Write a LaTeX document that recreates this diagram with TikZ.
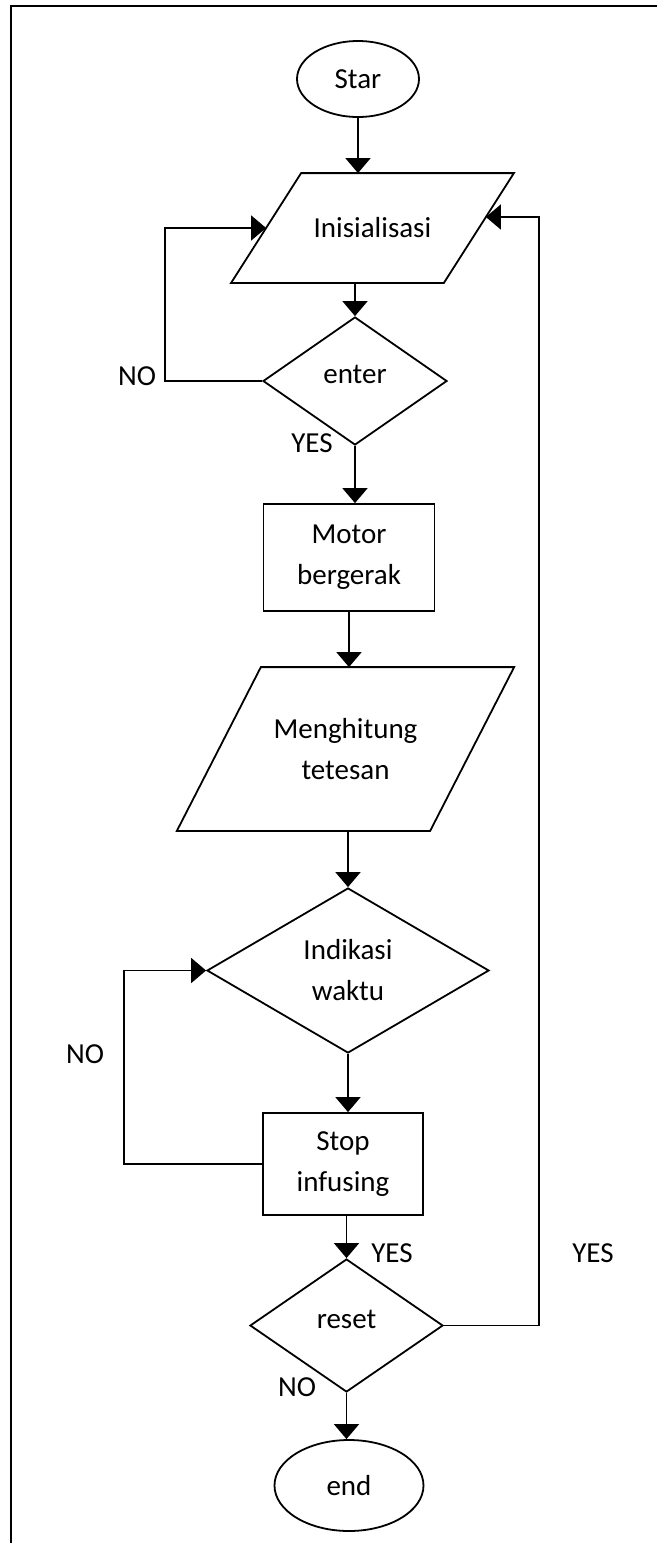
\documentclass[tikz,border=0pt]{standalone}
\usepackage{fontspec}
\setmainfont{Carlito}
\usetikzlibrary{shapes.geometric,arrows.meta,calc}
\begin{document}
\begin{tikzpicture}[x=1pt,y=-1pt,
  every node/.style={font=\fontsize{29}{41}\selectfont},
  shp/.style={draw, line width=1.8pt, inner sep=0pt, align=center},
  term/.style={shp, ellipse},
  procbox/.style={shp, rectangle},
  iobody/.style={shp, draw=none, rectangle},
  ioline/.style={line width=1.8pt, line join=miter},
  decide/.style={shp, diamond},
  raised/.style={text depth=13pt},
  arr/.style={line width=1.8pt, -{Triangle[length=15pt,width=25pt]}},
  lbl/.style={inner sep=0pt},
  frameline/.style={line width=2.2pt}]
\useasboundingbox (0,0) rectangle (657,1543);
\draw[frameline] (11,1543) -- (11,6) -- (657,6);

\node[term, minimum width=122, minimum height=76] (star) at (358,79) {Star};
\node[iobody, minimum width=211, minimum height=108] (inis) at (372.5,228) {Inisialisasi};
\draw[ioline] ($(inis.north west)+(35,0)$) -- ($(inis.north east)+(35,0)$)
  -- ($(inis.south east)+(-35,0)$) -- ($(inis.south west)+(-35,0)$) -- cycle;
\node[decide, raised, minimum width=184, minimum height=128, aspect=1.44] (enter) at (355,381) {enter};
\node[procbox, minimum width=171, minimum height=107] (motor) at (349,557.5) {Motor\\bergerak};
\node[iobody, minimum width=251.5, minimum height=162] (mengh) at (345.5,749) {Menghitung\\tetesan};
\draw[ioline] ($(mengh.north west)+(42,0)$) -- ($(mengh.north east)+(42,0)$)
  -- ($(mengh.south east)+(-42,0)$) -- ($(mengh.south west)+(-42,0)$) -- cycle;
\node[decide, minimum width=282, minimum height=165, aspect=1.71] (ind) at (348,970.5) {Indikasi\\waktu};
\node[procbox, minimum width=160, minimum height=102] (stop) at (343,1164) {Stop\\infusing};
\node[decide, raised, minimum width=193, minimum height=133, aspect=1.45] (reset) at (346.5,1325.5) {reset};
\node[term, minimum width=149, minimum height=91] (end) at (349,1485.5) {end};

\node[lbl] (no1) at (137,376) {NO};
\node[lbl] (yes1) at (312,443) {YES};
\node[lbl] (no2) at (85,1054) {NO};
\node[lbl] (yes2) at (392,1253) {YES};
\node[lbl] (yes3) at (593,1253) {YES};
\node[lbl] (no3) at (297,1387) {NO};

\draw[arr] (star.south) -- (star.south |- inis.north);
\draw[arr] (enter.north |- inis.south) -- (enter.north);
\draw[arr] (enter.south) -- (enter.south |- motor.north);
\draw[arr] (motor.south) -- (motor.south |- mengh.north);
\draw[arr] (ind.north |- mengh.south) -- (ind.north);
\draw[arr] (ind.south) -- (ind.south |- stop.north);
\draw[arr] (reset.north |- stop.south) -- (reset.north);
\draw[arr] (reset.south) -- (reset.south |- end.north);

\draw[arr] (enter.west) -- ++(-97,0) |- (inis.west);
\draw[arr] (stop.west) -- ++(-138,0) |- (ind.west);
\draw[arr] (reset.east) -- ++(95,0) |- ($(inis.east)+(7,-11)$);
\end{tikzpicture}
\end{document}
